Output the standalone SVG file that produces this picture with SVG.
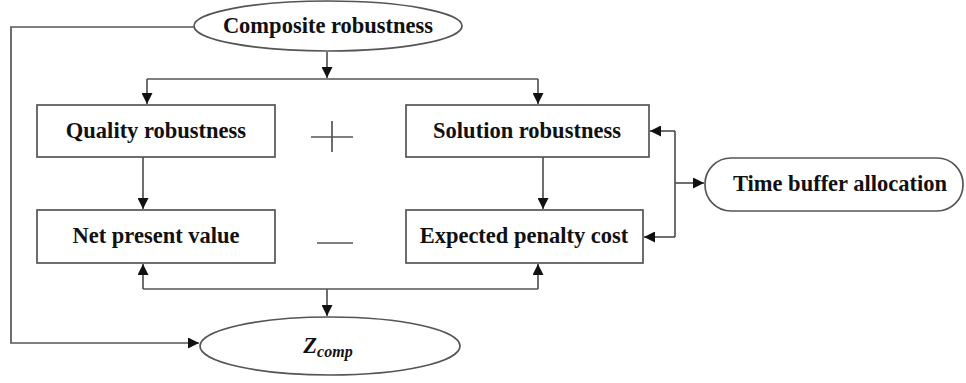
<svg xmlns="http://www.w3.org/2000/svg" width="966" height="383" viewBox="0 0 966 383">
<defs>
<style>
.n{fill:#fff;stroke:#555;stroke-width:1.7}
.t{font-family:"Liberation Serif","Times New Roman",serif;font-weight:bold;font-size:22.5px;fill:#111;text-anchor:middle}
.c{fill:none;stroke:#555;stroke-width:1.7}
</style>
<marker id="a" viewBox="0 0 10 10" refX="10" refY="5" markerWidth="11" markerHeight="11" markerUnits="userSpaceOnUse" orient="auto">
<path d="M0,0 L10,5 L0,10 z" fill="#111"/>
</marker>
</defs>
<rect width="966" height="383" fill="#fff"/>
<g id="connectors">
<path class="c" d="M194,27 H11 V343 H199" marker-end="url(#a)"/>
<path class="c" d="M327,52 V78" marker-end="url(#a)"/>
<path class="c" d="M147,79 H538"/>
<path class="c" d="M147,79 V104" marker-end="url(#a)"/>
<path class="c" d="M538,79 V104" marker-end="url(#a)"/>
<path class="c" d="M143,157 V209" marker-end="url(#a)"/>
<path class="c" d="M543,157 V209" marker-end="url(#a)"/>
<path class="c" d="M143,289 H538"/>
<path class="c" d="M143,289 V264" marker-end="url(#a)"/>
<path class="c" d="M538,289 V264" marker-end="url(#a)"/>
<path class="c" d="M327,289 V316" marker-end="url(#a)"/>
<path class="c" d="M675,131 V237"/>
<path class="c" d="M675,131 H650" marker-end="url(#a)"/>
<path class="c" d="M675,237 H644" marker-end="url(#a)"/>
<path class="c" d="M675,183 H704" marker-end="url(#a)"/>
</g>
<g id="composite">
<ellipse class="n" cx="328" cy="26" rx="134" ry="25"/>
<text class="t" x="328" y="33">Composite robustness</text>
</g>
<g id="quality">
<rect class="n" x="37" y="105" width="238" height="52"/>
<text class="t" x="156" y="138">Quality robustness</text>
</g>
<g id="solution">
<rect class="n" x="406" y="105" width="243" height="52"/>
<text class="t" x="527" y="138">Solution robustness</text>
</g>
<g id="plus">
<path class="c" d="M311,137 H353 M332,121 V152" stroke-width="1.2"/>
</g>
<g id="npv">
<rect class="n" x="37" y="210" width="238" height="53"/>
<text class="t" x="156" y="243">Net present value</text>
</g>
<g id="penalty">
<rect class="n" x="406" y="210" width="237" height="53"/>
<text class="t" x="524" y="243">Expected penalty cost</text>
</g>
<g id="minus">
<path class="c" d="M317,243 H353" stroke-width="1.2"/>
</g>
<g id="timebuffer">
<rect class="n" x="705" y="158" width="258" height="53" rx="26" ry="26"/>
<text class="t" x="840" y="191">Time buffer allocation</text>
</g>
<g id="zcomp">
<ellipse class="n" cx="330" cy="346" rx="130" ry="29"/>
<text class="t" x="328" y="353" font-style="italic" font-size="26">Z<tspan font-size="16" dy="4">comp</tspan></text>
</g>
</svg>
